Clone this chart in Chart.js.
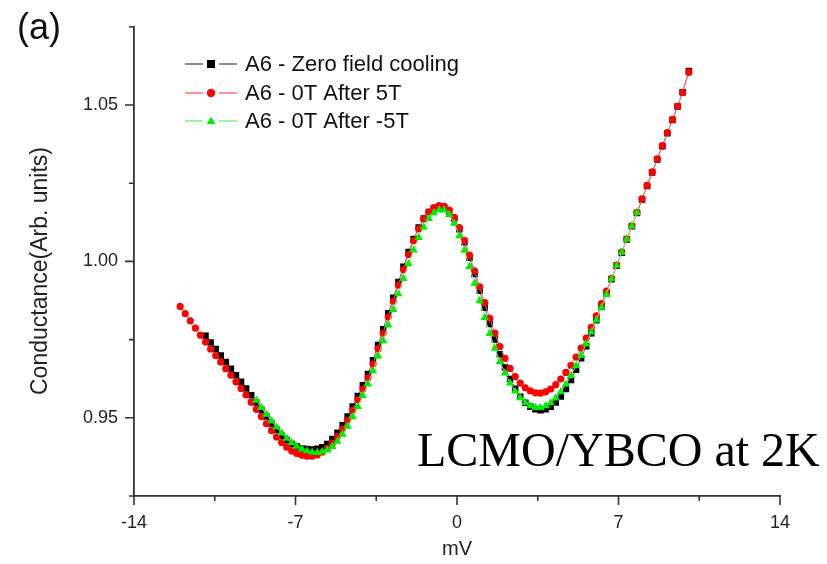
<!DOCTYPE html>
<html>
<head>
<meta charset="utf-8">
<script src="https://cdn.jsdelivr.net/npm/chart.js@4.4.0/dist/chart.umd.min.js"></script>
<style>
  html, body { margin: 0; padding: 0; background: #fff; }
  #wrap { width: 827px; height: 564px; }
</style>
</head>
<body>
<div id="wrap"><canvas id="conductance" width="827" height="564"></canvas></div>
<script>
// bias voltage (mV)
const voltage = [
  -12.00, -11.78, -11.56, -11.34, -11.12, -10.90, -10.68, -10.46, -10.24, -10.02,
  -9.80, -9.58, -9.36, -9.14, -8.92, -8.70, -8.48, -8.26, -8.04, -7.82,
  -7.60, -7.38, -7.16, -6.94, -6.72, -6.50, -6.28, -6.06, -5.84, -5.62,
  -5.40, -5.18, -4.96, -4.74, -4.52, -4.30, -4.08, -3.86, -3.64, -3.42,
  -3.20, -2.98, -2.76, -2.54, -2.32, -2.10, -1.88, -1.66, -1.44, -1.22,
  -1.00, -0.78, -0.56, -0.34, -0.12, 0.10, 0.32, 0.54, 0.76, 0.98,
  1.20, 1.42, 1.64, 1.86, 2.08, 2.30, 2.52, 2.74, 2.96, 3.18,
  3.40, 3.62, 3.84, 4.06, 4.28, 4.50, 4.72, 4.94, 5.16, 5.38,
  5.60, 5.82, 6.04, 6.26, 6.48, 6.70, 6.92, 7.14, 7.36, 7.58,
  7.80, 8.02, 8.24, 8.46, 8.68, 8.90, 9.12, 9.34, 9.56, 9.78,
  10.05
];

// A6 - Zero field cooling
const zeroFieldCooling = [
  null, null, null, null, null, 0.9762, 0.9741, 0.9720, 0.9699, 0.9678,
  0.9657, 0.9636, 0.9615, 0.9594, 0.9572, 0.9549, 0.9526, 0.9504, 0.9482, 0.9462,
  0.9443, 0.9428, 0.9416, 0.9408, 0.9402, 0.9400, 0.9399, 0.9401, 0.9406, 0.9416,
  0.9432, 0.9452, 0.9476, 0.9504, 0.9536, 0.9570, 0.9604, 0.9640, 0.9684, 0.9733,
  0.9783, 0.9834, 0.9884, 0.9934, 0.9983, 1.0030, 1.0072, 1.0108, 1.0137, 1.0158,
  1.0170, 1.0174, 1.0172, 1.0160, 1.0137, 1.0103, 1.0061, 1.0012, 0.9960, 0.9906,
  0.9852, 0.9800, 0.9750, 0.9703, 0.9661, 0.9624, 0.9593, 0.9567, 0.9548, 0.9535,
  0.9527, 0.9524, 0.9527, 0.9535, 0.9549, 0.9568, 0.9592, 0.9621, 0.9654, 0.9690,
  0.9729, 0.9770, 0.9812, 0.9855, 0.9898, 0.9943, 0.9986, 1.0028, 1.0070, 1.0112,
  1.0155, 1.0198, 1.0241, 1.0284, 1.0326, 1.0368, 1.0410, 1.0452, 1.0495, 1.0541,
  1.0609
];

// A6 - 0T After 5T
const after5T = [
  0.9856, 0.9833, 0.9810, 0.9787, 0.9764, 0.9742, 0.9720, 0.9699, 0.9678, 0.9657,
  0.9636, 0.9615, 0.9594, 0.9573, 0.9550, 0.9527, 0.9504, 0.9481, 0.9459, 0.9439,
  0.9421, 0.9406, 0.9394, 0.9386, 0.9380, 0.9377, 0.9377, 0.9381, 0.9390, 0.9402,
  0.9419, 0.9440, 0.9464, 0.9492, 0.9524, 0.9558, 0.9592, 0.9628, 0.9672, 0.9721,
  0.9771, 0.9822, 0.9873, 0.9924, 0.9974, 1.0022, 1.0066, 1.0104, 1.0136, 1.0158,
  1.0172, 1.0178, 1.0176, 1.0164, 1.0141, 1.0108, 1.0067, 1.0020, 0.9970, 0.9919,
  0.9868, 0.9818, 0.9771, 0.9728, 0.9690, 0.9658, 0.9632, 0.9611, 0.9596, 0.9586,
  0.9580, 0.9579, 0.9583, 0.9592, 0.9606, 0.9624, 0.9645, 0.9668, 0.9694, 0.9723,
  0.9755, 0.9789, 0.9826, 0.9865, 0.9905, 0.9946, 0.9988, 1.0030, 1.0072, 1.0114,
  1.0157, 1.0200, 1.0243, 1.0286, 1.0328, 1.0370, 1.0412, 1.0454, 1.0496, 1.0540,
  1.0604
];

// A6 - 0T After -5T
const afterMinus5T = [
  null, null, null, null, null, null, null, null, null, null,
  null, null, null, null, null, 0.9556, 0.9533, 0.9511, 0.9490, 0.9470,
  0.9451, 0.9434, 0.9420, 0.9409, 0.9400, 0.9394, 0.9390, 0.9389, 0.9391, 0.9397,
  0.9408, 0.9425, 0.9447, 0.9473, 0.9503, 0.9536, 0.9571, 0.9608, 0.9650, 0.9697,
  0.9746, 0.9796, 0.9846, 0.9896, 0.9945, 0.9992, 1.0036, 1.0076, 1.0110, 1.0137,
  1.0155, 1.0165, 1.0164, 1.0150, 1.0122, 1.0082, 1.0035, 0.9983, 0.9929, 0.9874,
  0.9820, 0.9769, 0.9722, 0.9680, 0.9643, 0.9611, 0.9585, 0.9564, 0.9548, 0.9538,
  0.9533, 0.9533, 0.9538, 0.9548, 0.9563, 0.9583, 0.9607, 0.9635, 0.9666, 0.9700,
  0.9736, 0.9774, 0.9813, 0.9853, 0.9895, 0.9944, 0.9987, 1.0029, 1.0071, 1.0113,
  1.0156, null, null, null, null, null, null, null, null, null,
  null
];

const seriesLabels = ["A6 - Zero field cooling", "A6 - 0T After 5T", "A6 - 0T After -5T"];
const xMajorTicks = [-14, -7, 0, 7, 14];
const xMinorTicks = [-10.5, -3.5, 3.5, 10.5];
const yMajorTicks = [0.95, 1.00, 1.05];
const yMinorTicks = [0.925, 0.975, 1.025, 1.075];
const xTitle = "mV";
const yTitle = "Conductance(Arb. units)";
const panelLabel = "(a)";
const sampleNote = "LCMO/YBCO at 2K";

const SANS = '"Liberation Sans", Arial, sans-serif';
const SERIF = '"Liberation Serif", "Times New Roman", serif';

function toPoints(vals) {
  const pts = [];
  vals.forEach(function (y, i) {
    if (y !== null) pts.push({ x: voltage[i], y: y });
  });
  return pts;
}

// look of each series
const styles = [
  { line: "#6a6a6a", fill: "#000000", shape: "rect" },
  { line: "#ff7070", fill: "#ff0000", shape: "circle" },
  { line: "#7cf57c", fill: "#00ee00", shape: "triangle" },
];

function drawMarker(ctx, shape, x, y, r) {
  ctx.beginPath();
  if (shape === "rect") {
    ctx.rect(x - r, y - r, 2 * r, 2 * r);
  } else if (shape === "circle") {
    ctx.arc(x, y, r, 0, Math.PI * 2);
  } else {
    ctx.moveTo(x, y - r * 1.15);
    ctx.lineTo(x + r * 1.1, y + r * 0.75);
    ctx.lineTo(x - r * 1.1, y + r * 0.75);
    ctx.closePath();
  }
  ctx.fill();
}

const decorations = {
  id: "decorations",
  afterDraw(chart) {
    const ctx = chart.ctx;
    const xs = chart.scales.x;
    const ys = chart.scales.y;
    const area = chart.chartArea;
    ctx.save();

    // tick marks (major and minor, outward)
    ctx.strokeStyle = "#333";
    ctx.lineWidth = 1.6;
    ctx.beginPath();
    xMajorTicks.forEach(function (v) {
      const px = xs.getPixelForValue(v);
      ctx.moveTo(px, area.bottom);
      ctx.lineTo(px, area.bottom + 9);
    });
    xMinorTicks.forEach(function (v) {
      const px = xs.getPixelForValue(v);
      ctx.moveTo(px, area.bottom);
      ctx.lineTo(px, area.bottom + 5);
    });
    yMajorTicks.forEach(function (v) {
      const py = ys.getPixelForValue(v);
      ctx.moveTo(area.left, py);
      ctx.lineTo(area.left - 9, py);
    });
    yMinorTicks.forEach(function (v) {
      const py = ys.getPixelForValue(v);
      ctx.moveTo(area.left, py);
      ctx.lineTo(area.left - 5, py);
    });
    ctx.stroke();

    // legend: line - marker - line
    const legendY = [64, 93, 121];
    seriesLabels.forEach(function (label, i) {
      const st = styles[i];
      const y = legendY[i];
      ctx.strokeStyle = st.line;
      ctx.lineWidth = 1.3;
      ctx.beginPath();
      ctx.moveTo(185, y);
      ctx.lineTo(203, y);
      ctx.moveTo(219, y);
      ctx.lineTo(237, y);
      ctx.stroke();
      ctx.fillStyle = st.fill;
      drawMarker(ctx, st.shape, 211, y, i === 1 ? 4.2 : 4);
      ctx.fillStyle = "#111";
      ctx.font = "22px " + SANS;
      ctx.textAlign = "left";
      ctx.textBaseline = "middle";
      ctx.fillText(label, 245, y + 1);
    });

    // y axis title
    ctx.save();
    ctx.translate(41, 271);
    ctx.rotate(-Math.PI / 2);
    ctx.font = "23px " + SANS;
    ctx.fillStyle = "#222";
    ctx.textAlign = "center";
    ctx.textBaseline = "middle";
    ctx.fillText(yTitle, 0, 0);
    ctx.restore();

    // panel label and sample note
    ctx.fillStyle = "#111";
    ctx.font = "36px " + SANS;
    ctx.textAlign = "left";
    ctx.textBaseline = "alphabetic";
    ctx.fillText(panelLabel, 17, 39);

    ctx.fillStyle = "#000";
    ctx.font = "48px " + SERIF;
    ctx.fillText(sampleNote, 417, 466);

    ctx.restore();
  },
};

Chart.defaults.font.family = SANS;
Chart.defaults.color = "#222";

const ctx = document.getElementById("conductance").getContext("2d");
const chart = new Chart(ctx, {
  type: "line",
  data: {
    datasets: [
      {
        label: seriesLabels[0],
        data: toPoints(zeroFieldCooling),
        borderColor: styles[0].line,
        borderWidth: 1,
        pointStyle: "rect",
        pointRadius: 4.6,
        pointBackgroundColor: styles[0].fill,
        pointBorderWidth: 0,
        order: 2,
      },
      {
        label: seriesLabels[1],
        data: toPoints(after5T),
        borderColor: styles[1].line,
        borderWidth: 1,
        pointStyle: "circle",
        pointRadius: 3.6,
        pointBackgroundColor: styles[1].fill,
        pointBorderWidth: 0,
        order: 1,
      },
      {
        label: seriesLabels[2],
        data: toPoints(afterMinus5T),
        borderColor: styles[2].line,
        borderWidth: 1,
        pointStyle: "triangle",
        pointRadius: 4.8,
        pointBackgroundColor: styles[2].fill,
        pointBorderWidth: 0,
        order: 0,
      },
    ],
  },
  options: {
    responsive: false,
    animation: false,
    events: [],
    layout: { padding: { top: 21, right: 47, bottom: 0, left: 0 } },
    plugins: {
      legend: { display: false },
      tooltip: { enabled: false },
    },
    scales: {
      x: {
        type: "linear",
        min: -14,
        max: 14,
        afterBuildTicks: function (scale) {
          scale.ticks = xMajorTicks.map(function (v) { return { value: v }; });
        },
        afterFit: function (scale) { scale.height = 68; },
        grid: { display: false, drawTicks: false },
        border: { display: true, color: "#333", width: 1.8 },
        ticks: {
          padding: 16,
          maxRotation: 0,
          font: { size: 18 },
          color: "#222",
          callback: function (v) { return String(v); },
        },
        title: {
          display: true,
          text: xTitle,
          font: { size: 20 },
          color: "#222",
          padding: { top: 0, bottom: 3 },
        },
      },
      y: {
        type: "linear",
        min: 0.925,
        max: 1.075,
        afterBuildTicks: function (scale) {
          scale.ticks = yMajorTicks.map(function (v) { return { value: v }; });
        },
        afterFit: function (scale) { scale.width = 134; },
        grid: { display: false, drawTicks: false },
        border: { display: true, color: "#333", width: 1.8 },
        ticks: {
          padding: 16,
          font: { size: 18 },
          color: "#222",
          callback: function (v) { return Number(v).toFixed(2); },
        },
      },
    },
  },
  plugins: [decorations],
});
</script>
</body>
</html>
